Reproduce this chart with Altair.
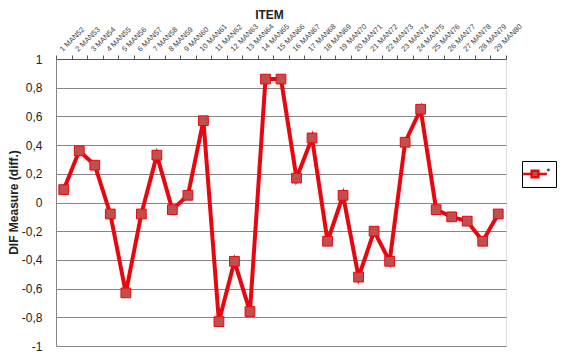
import altair as alt
import pandas as pd

items = [f"{i} MAN{51 + i}" for i in range(1, 30)]
values = [0.09, 0.36, 0.26, -0.08, -0.63, -0.08, 0.33, -0.05, 0.05, 0.57,
          -0.83, -0.41, -0.76, 0.86, 0.86, 0.17, 0.45, -0.27, 0.05, -0.52,
          -0.20, -0.41, 0.42, 0.65, -0.05, -0.10, -0.13, -0.27, -0.08]
series = ["*"] * len(items)
y_ticks = [-1, -0.8, -0.6, -0.4, -0.2, 0, 0.2, 0.4, 0.6, 0.8, 1]

df = pd.DataFrame({"item": items, "value": values, "series": series})

FONT = "Lato"
label_expr = "replace(replace(format(datum.value, '~g'), '.', ','), '\u2212', '-')"

x = alt.X("item:N", sort=items, title="ITEM",
          scale=alt.Scale(paddingInner=0, paddingOuter=0),
          axis=alt.Axis(orient="top", labelAngle=-45, labelFontSize=7.5,
                        labelColor="#444444", tickBand="extent", tickSize=4,
                        tickColor="#555555", domainColor="#555555",
                        titleFontSize=12, titleFontWeight="bold",
                        titleColor="#222222", titleBaseline="top",
                        titleY=-50, titleX=213, grid=False,
                        labelPadding=2))
y = alt.Y("value:Q", title="DIF Measure (diff.)",
          scale=alt.Scale(domain=[-1, 1], nice=False, zero=False),
          axis=alt.Axis(values=y_ticks, labelExpr=label_expr, labelFontSize=12,
                        labelColor="#222222", tickSize=0, labelPadding=14,
                        gridColor="#868686", gridWidth=1.2,
                        domainColor="#868686", titleFontSize=12,
                        titleFontWeight="bold", titleColor="#222222",
                        titleX=-36, titleY=143, titleBaseline="bottom"))

base = alt.Chart(df)
line = base.mark_line(color="#E8070F", strokeWidth=4).encode(x=x, y=y)
pts = base.mark_point(shape="square", filled=True, stroke="#E8070F",
                      strokeWidth=1, size=95, opacity=1).encode(
    x=x, y=y,
    color=alt.Color("series:N", scale=alt.Scale(range=["#C0504D"]),
                    legend=alt.Legend(
                        title=None, orient="none", legendX=466, legendY=102,
                        strokeColor="black", padding=4, labelFontSize=11,
                        labelFont=FONT, labelBaseline="middle", labelOffset=2,
                        symbolType="M-1.6,0H-0.45M0.45,0H1.6M-0.45,-0.45H0.45V0.45H-0.45Z",
                        symbolSize=220, symbolStrokeColor="#E8070F",
                        symbolStrokeWidth=2.5, symbolOpacity=1)))

chart = alt.layer(line, pts).properties(
    width=450, height=287,
    autosize=alt.AutoSizeParams(type="none"),
    padding={"left": 48, "top": 51, "right": 59, "bottom": 9},
).configure_view(stroke="black", strokeWidth=1.2).configure_axis(
    labelFont=FONT, titleFont=FONT
).configure(background="white")

chart.save("out.html", embed_options={"renderer": "svg", "actions": False})
